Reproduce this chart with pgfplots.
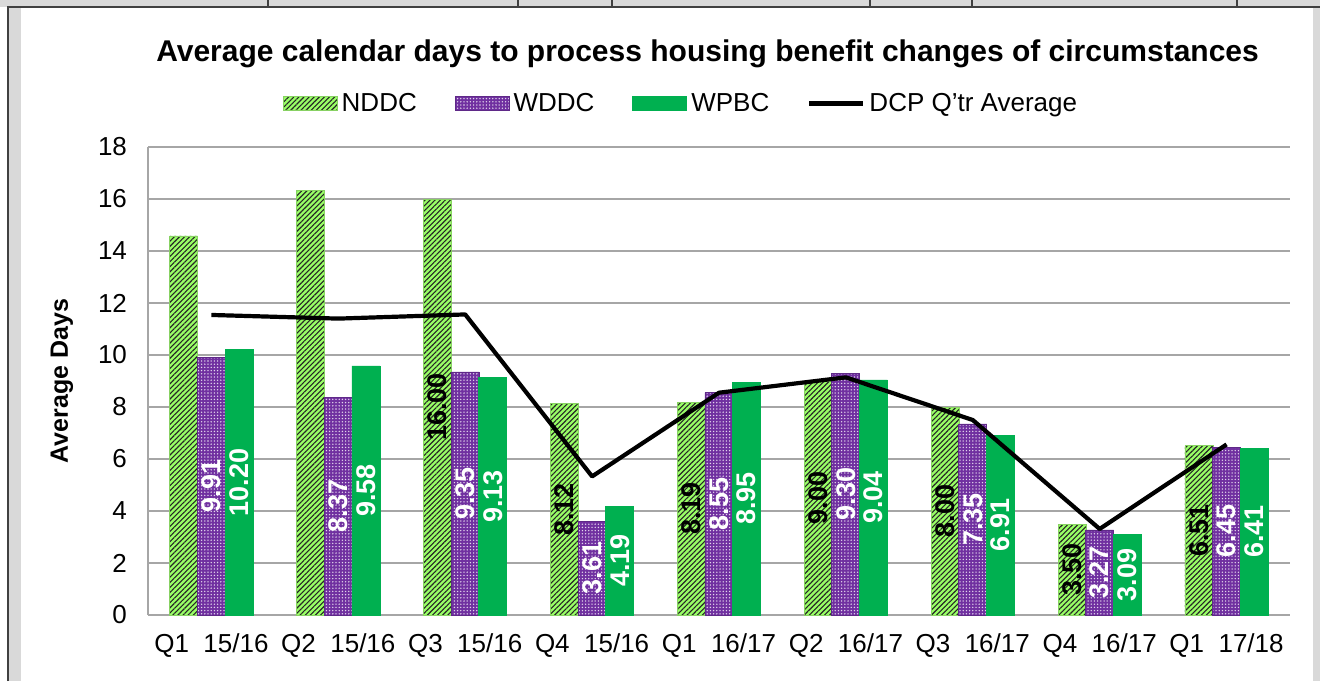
\documentclass[border=0pt]{standalone}
\usepackage{fontspec}
\setmainfont{Liberation Sans}
\usepackage{pgfplots}
\usepackage{pgfplotstable}
\pgfplotsset{compat=1.18}
\usetikzlibrary{patterns,patterns.meta}

\definecolor{nddc}{HTML}{99FF66}
\definecolor{wddc}{HTML}{7030A0}
\definecolor{wpbc}{HTML}{00B050}
\definecolor{gridg}{HTML}{A6A6A6}
\definecolor{chrome}{HTML}{D9D9D9}
\definecolor{dark}{HTML}{404040}

\pgfplotsset{
  barlegend/.style={legend image code/.code={\draw[##1] (0pt,-3.5pt) rectangle (27pt,3.5pt);}},
  linelegend/.style={legend image code/.code={\draw[##1] (0pt,0pt) -- (27pt,0pt);}},
  vlabel/.style={draw=none, mark=none, forget plot,
    nodes near coords, point meta=explicit symbolic, nodes near coords align={center},
    nodes near coords style={rotate=90, anchor=center, text=#1, inner sep=0pt,
      font=\bfseries\fontsize{13.5}{15}\selectfont}},
}

\pgfplotstableread{
x nddc wddc wpbc dcp
0 14.58 9.91 10.20 11.54
1 16.32 8.37 9.58 11.40
2 16.00 9.35 9.13 11.56
3 8.12 3.61 4.19 5.33
4 8.19 8.55 8.95 8.55
5 9.00 9.30 9.04 9.14
6 8.00 7.35 6.91 7.50
7 3.50 3.27 3.09 3.31
8 6.51 6.45 6.41 6.56
}\data

\pgfplotstableread{
x v t
2 16.00 16.00
3 8.12 8.12
4 8.19 8.19
5 9.00 9.00
6 8.00 8.00
7 3.50 3.50
8 6.51 6.51
}\nddclbl

\pgfplotstableread{
x v t
0 9.91 9.91
1 8.37 8.37
2 9.35 9.35
3 3.61 3.61
4 8.55 8.55
5 9.30 9.30
6 7.35 7.35
7 3.27 3.27
8 6.45 6.45
}\wddclbl

\pgfplotstableread{
x v t
0 10.20 10.20
1 9.58 9.58
2 9.13 9.13
3 4.19 4.19
4 8.95 8.95
5 9.04 9.04
6 6.91 6.91
7 3.09 3.09
8 6.41 6.41
}\wpbclbl

\begin{document}
\begin{tikzpicture}
\useasboundingbox (0,0) rectangle (660pt,340.5pt);
% spreadsheet chrome
\fill[chrome] (0,0) rectangle (10.5pt,340.5pt);
\fill[white] (0,0) rectangle (3.5pt,340.5pt);
\fill[chrome] (656.5pt,0) rectangle (660pt,337pt);
\fill[chrome] (0,337pt) rectangle (660pt,340.5pt);
\draw[dark, line width=1pt] (4pt,0) -- (4pt,336.8pt) -- (660pt,336.8pt);
\foreach \xx in {134,259,306,435,486,618.5} {
  \draw[dark, line width=0.6pt] (\xx pt,337pt) -- (\xx pt,340.5pt);
}
\begin{axis}[
  at={(74pt,33pt)}, anchor=south west,
  scale only axis, width=571pt, height=234pt,
  xmin=-0.5, xmax=8.5, ymin=0, ymax=18,
  ytick={0,2,...,18},
  xtick={0,...,8},
  xticklabels={Q1\ \ 15/16,Q2\ \ 15/16,Q3\ \ 15/16,Q4\ \ 15/16,Q1\ \ 16/17,Q2\ \ 16/17,Q3\ \ 16/17,Q4\ \ 16/17,Q1\ \ 17/18},
  axis lines*=left,
  axis line style={gridg, line width=1pt},
  ymajorgrids, grid style={gridg, line width=0.9pt},
  major tick length=0pt,
  /pgf/number format/assume math mode=true,
  tick label style={font=\fontsize{13}{15}\selectfont},
  xticklabel style={yshift=-6pt},
  yticklabel style={xshift=-7pt},
  ylabel={Average Days},
  ylabel style={at={(axis description cs:-0.0753,0.5)}, anchor=center, font=\bfseries\fontsize{12.5}{14}\selectfont},
  title={Average calendar days to process housing benefit changes of circumstances},
  title style={at={(axis description cs:0.49,1.173)}, anchor=center, yshift=0pt, font=\bfseries\fontsize{15}{17}\selectfont},
  legend columns=4,
  legend style={at={(axis description cs:0.4676,1.093)}, anchor=center, draw=none, fill=none,
    font=\fontsize{13}{15}\selectfont,
    /tikz/every even column/.append style={column sep=17pt}},
  bar width=14pt,
]
\addplot[ybar, bar shift=-13.8pt, fill=nddc, draw=nddc!80!black!90, line width=0.4pt,
  postaction={pattern={Lines[angle=45,distance=1.8pt,line width=0.55pt]}, pattern color=black!85},
  barlegend]
  table[x=x, y=nddc] {\data};
\addlegendentry{NDDC}
\addplot[ybar, bar shift=0pt, fill=wddc, draw=wddc!85!black, line width=0.4pt,
  postaction={pattern={Dots[distance=1.6pt,radius=0.38pt]}, pattern color=white!80!wddc},
  barlegend]
  table[x=x, y=wddc] {\data};
\addlegendentry{WDDC}
\addplot[ybar, bar shift=13.8pt, fill=wpbc, draw=wpbc, line width=0.4pt, barlegend]
  table[x=x, y=wpbc] {\data};
\addlegendentry{WPBC}
\addplot[black, line width=2.1pt, mark=none, line join=round, linelegend]
  table[x=x, y=dcp] {\data};
\addlegendentry{DCP Q'tr Average}
% value labels (bar shift 13.8pt = 0.2175 category units)
\addplot[vlabel=black] table[x expr=\thisrow{x}-0.2175, y expr=\thisrow{v}/2, meta=t] {\nddclbl};
\addplot[vlabel=white] table[x=x, y expr=\thisrow{v}/2, meta=t] {\wddclbl};
\addplot[vlabel=white] table[x expr=\thisrow{x}+0.2175, y expr=\thisrow{v}/2, meta=t] {\wpbclbl};
\end{axis}
\end{tikzpicture}
\end{document}
